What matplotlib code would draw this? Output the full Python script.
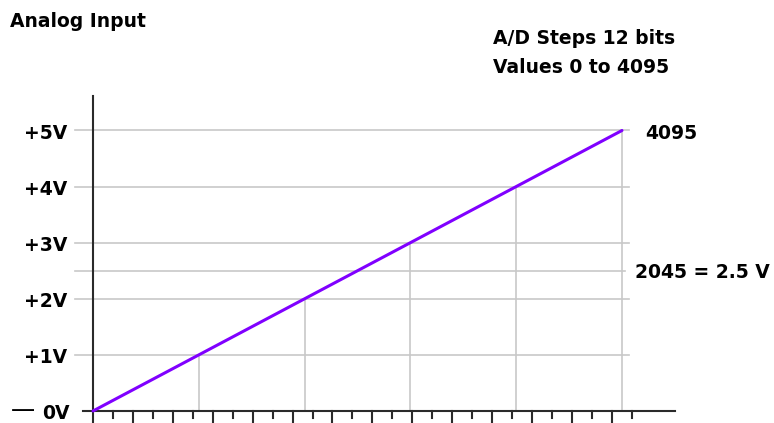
import numpy as np
import matplotlib.pyplot as plt

plt.rcParams['font.family'] = ['DejaVu Sans']

# data
adc_max = 4095
volt_max = 5
volt_levels = [1, 2, 3, 4, 5]
volt_labels = ['+1V', '+2V', '+3V', '+4V', '+5V']
mid_level = 2.5
drop_x = [819, 1638, 2457, 3276, 4095]
drop_v = [1, 2, 3, 4, 5]
line_x = [0, adc_max]
line_v = [0, volt_max]
tick_step = 154.5
n_ticks = 27

fig = plt.figure(figsize=(7.74, 4.23), dpi=100)
ax = fig.add_axes([0, 0, 1, 1])
ax.set_xlim(-720, 5272)
ax.set_ylim(-0.214, 7.326)
ax.axis('off')

grid_col = '#c8c8c8'
axis_col = '#2a2a2a'

# horizontal grid lines
for v in volt_levels:
    ax.plot([-139, 4150], [v, v], color=grid_col, lw=1.2, zorder=1)
ax.plot([-139, 4120], [mid_level, mid_level], color=grid_col, lw=1.2, zorder=1)

# drop lines
for x, v in zip(drop_x, drop_v):
    ax.plot([x, x], [0, v], color=grid_col, lw=1.2, zorder=1)

# axes
ax.plot([0, 0], [-0.214, 5.615], color=axis_col, lw=1.5, zorder=3)
ax.plot([-77, 4505], [0, 0], color=axis_col, lw=1.5, zorder=3)
for i in range(1, n_ticks + 1):
    x = i * tick_step
    low = -0.196 if i % 2 == 0 else -0.125
    ax.plot([x, x], [0, low], color=axis_col, lw=1.5, zorder=3)

# the ramp
ax.plot(line_x, line_v, color='#8000ff', lw=2.2, zorder=4, solid_capstyle='round')

# labels
fs = 13.5
for v, lab in zip(volt_levels, volt_labels):
    ax.text(-201, v - 0.15, lab, ha='right', va='baseline', fontsize=fs, fontweight='bold')
ax.text(-178, -0.15, '0V', ha='right', va='baseline', fontsize=fs, fontweight='bold')
ax.text(-450, -0.11, '—', ha='right', va='baseline', fontsize=17.5)

ax.text(-643, 6.845, 'Analog Input', ha='left', va='baseline', fontsize=13.5, fontweight='bold')
ax.text(3096, 6.542, 'A/D Steps 12 bits', ha='left', va='baseline', fontsize=fs, fontweight='bold')
ax.text(3096, 6.025, 'Values 0 to 4095', ha='left', va='baseline', fontsize=fs, fontweight='bold')
ax.text(4273, 4.848, '4095', ha='left', va='baseline', fontsize=fs, fontweight='bold')
ax.text(4196, 2.371, '2045 = 2.5 V', ha='left', va='baseline', fontsize=fs, fontweight='bold')

fig.savefig('out.png', dpi=100)
